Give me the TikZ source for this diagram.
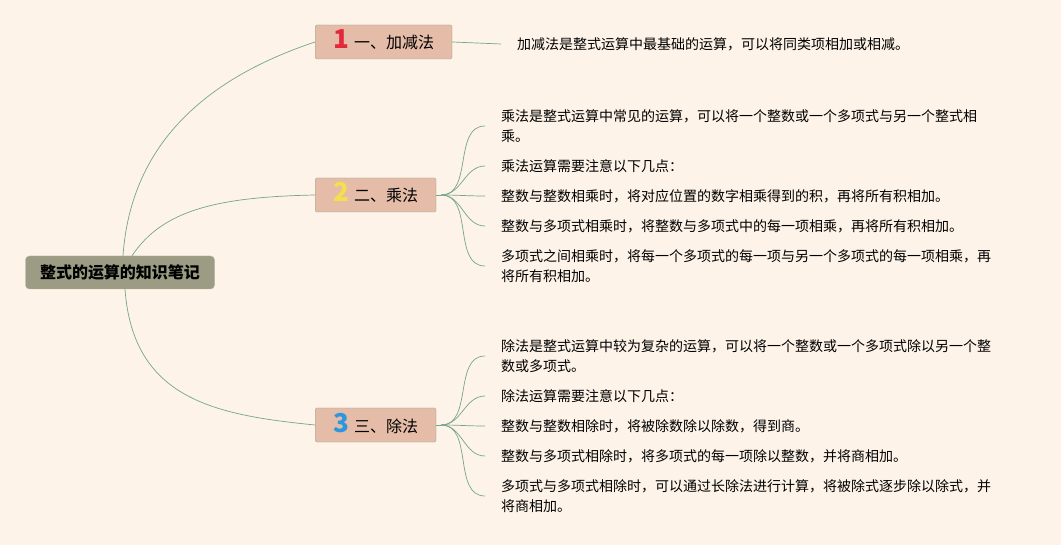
\documentclass[tikz,border=0pt]{standalone}
\usepackage{fontspec}
\setmainfont{Noto Sans CJK SC}
\usetikzlibrary{positioning,calc}
\definecolor{NoteBg}{HTML}{FEF3E8}
\definecolor{NoteRoot}{HTML}{9C9C84}
\definecolor{NoteRootLine}{HTML}{B3B39C}
\definecolor{NoteTopic}{HTML}{E5BCA7}
\definecolor{NoteTopicLine}{HTML}{8DAA98}
\definecolor{NoteEdge}{HTML}{74A58E}
\definecolor{NoteRed}{HTML}{E2283A}
\definecolor{NoteYellow}{HTML}{F4E04C}
\definecolor{NoteBlue}{HTML}{2C97DE}
\newcommand{\topicnum}[2]{{\color{#1}\bfseries\fontsize{26}{26}\selectfont #2}\hspace{5pt}}

\begin{document}
\begin{tikzpicture}[x=1pt,y=-1pt,
    rootbox/.style={draw=NoteRootLine,fill=NoteRoot,rounded corners=4pt,minimum width=189pt,minimum height=33pt,inner sep=0pt,font=\bfseries\fontsize{16}{16}\selectfont},
    topicbox/.style={draw=NoteTopicLine,fill=NoteTopic,rounded corners=1.5pt,minimum height=34pt,text height=15pt,text depth=1pt,inner xsep=18pt,anchor=west,font=\fontsize{16}{16}\selectfont},
    leaf/.style={anchor=west,inner xsep=16pt,inner ysep=0pt,align=left,font=\fontsize{14}{20}\selectfont},
    edge/.style={NoteEdge,line width=0.7pt}]
    \useasboundingbox[fill=NoteBg] (0,0) rectangle (1061,545);
    % central topic
    \node[rootbox] (root) at (120,272.5) {整式的运算的知识笔记};
    % main topics
    \node[topicbox] (add) at (315,42) {\topicnum{NoteRed}{1}一、加减法};
    \node[topicbox] (mul) at (315,195) {\topicnum{NoteYellow}{2}二、乘法};
    \node[topicbox] (div) at (315,425) {\topicnum{NoteBlue}{3}三、除法};
    \draw[edge] ([xshift=3pt]root.north) .. controls +(8,-115) and +(-105,35) .. (add.west);
    \draw[edge] ([xshift=12pt]root.north) .. controls +(30,-45) and +(-100,2) .. (mul.west);
    \draw[edge] ([xshift=5pt]root.south) .. controls +(8,110) and +(-100,-10) .. (div.west);
    % addition
    \node[leaf] (add1) at (501,44) {加减法是整式运算中最基础的运算，可以将同类项相加或相减。};
    \draw[edge] (add.east) -- (add1.west);
    % multiplication
    \node[leaf] (mul1) at (485,126) {乘法是整式运算中常见的运算，可以将一个整数或一个多项式与另一个整式相\\乘。};
    \node[leaf] (mul2) at (485,166) {乘法运算需要注意以下几点：};
    \node[leaf] (mul3) at (485,196) {整数与整数相乘时，将对应位置的数字相乘得到的积，再将所有积相加。};
    \node[leaf] (mul4) at (485,226) {整数与多项式相乘时，将整数与多项式中的每一项相乘，再将所有积相加。};
    \node[leaf] (mul5) at (485,266) {多项式之间相乘时，将每一个多项式的每一项与另一个多项式的每一项相乘，再\\将所有积相加。};
    \coordinate[right=5pt of mul.east] (mulhub);
    \draw[edge] (mul.east) -- (mulhub);
    \foreach \n in {1,...,5}
      \draw[edge] (mulhub) to[out=0,in=180] (mul\n.west);
    % division
    \node[leaf] (div1) at (485,356) {除法是整式运算中较为复杂的运算，可以将一个整数或一个多项式除以另一个整\\数或多项式。};
    \node[leaf] (div2) at (485,396) {除法运算需要注意以下几点：};
    \node[leaf] (div3) at (485,426) {整数与整数相除时，将被除数除以除数，得到商。};
    \node[leaf] (div4) at (485,456) {整数与多项式相除时，将多项式的每一项除以整数，并将商相加。};
    \node[leaf] (div5) at (485,496) {多项式与多项式相除时，可以通过长除法进行计算，将被除式逐步除以除式，并\\将商相加。};
    \coordinate[right=5pt of div.east] (divhub);
    \draw[edge] (div.east) -- (divhub);
    \foreach \n in {1,...,5}
      \draw[edge] (divhub) to[out=0,in=180] (div\n.west);
\end{tikzpicture}
\end{document}
